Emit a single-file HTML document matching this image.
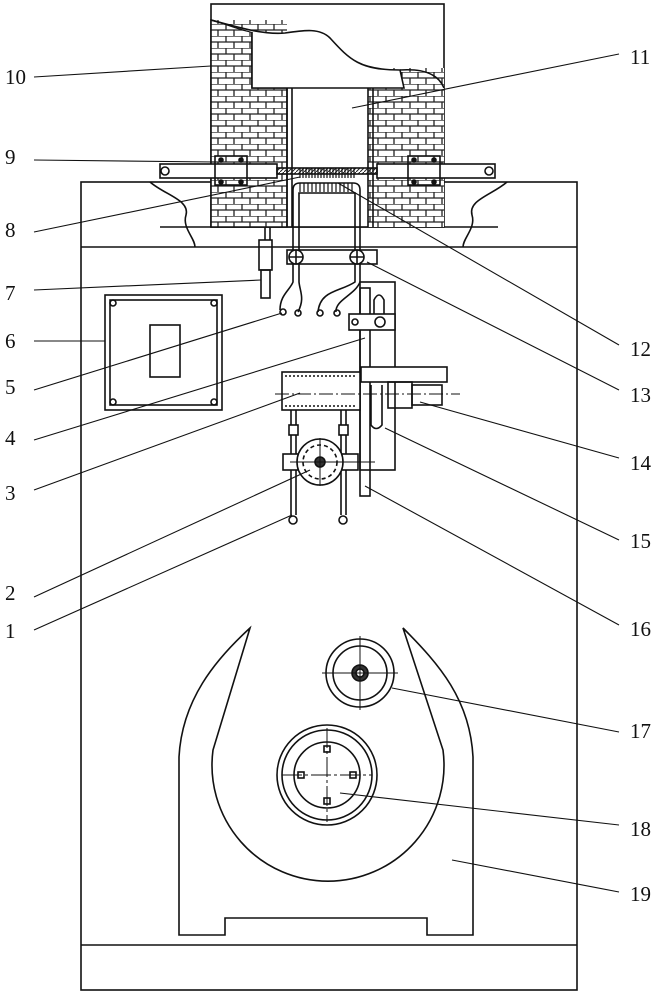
<!DOCTYPE html>
<html><head><meta charset="utf-8"><style>
html,body{margin:0;padding:0;background:#fff;}
svg{display:block;}
text{font-family:"Liberation Serif",serif;font-size:21px;fill:#111;}
</style></head><body>
<svg width="654" height="1000" viewBox="0 0 654 1000" xmlns="http://www.w3.org/2000/svg">
<defs>
<pattern id="brick" width="16" height="12" patternUnits="userSpaceOnUse">
<rect width="16" height="12" fill="#fff"/>
<path d="M0 0H16M0 6H16M2 0V6M10 6V12" stroke="#222" stroke-width="1.3" fill="none"/>
</pattern>
<pattern id="hatch" width="4" height="4" patternUnits="userSpaceOnUse">
<path d="M0 4L4 0" stroke="#222" stroke-width="1"/>
</pattern>
</defs>
<g fill="none" stroke="#111" stroke-width="1.6">
<rect x="81" y="182" width="496" height="808"/>
<line x1="81" y1="247" x2="577" y2="247"/>
<line x1="81" y1="945" x2="577" y2="945"/>
<path d="M150 182 C165 195 190 200 186 215 C182 228 195 238 195 247" fill="#fff"/>
<path d="M507 182 C492 195 468 200 472 215 C476 228 463 238 463 247" fill="#fff"/>
<line x1="160" y1="227" x2="498" y2="227"/>
<rect x="211" y="4" width="233" height="223" fill="#fff"/>
<rect x="211" y="20" width="76" height="207" fill="url(#brick)" stroke="none"/>
<rect x="368" y="68" width="76" height="159" fill="url(#brick)" stroke="none"/>
<path d="M211 20 C230 25 240 30 252 32 L252 88 L287 88 L287 227 L211 227 Z" fill="none"/>
<path d="M211 20 C240 28 265 35 285 33 C305 30 320 28 330 38 C350 60 360 70 400 70 L404 88 L252 88 L252 32" fill="#fff"/>
<path d="M400 70 C430 68 440 78 444 88" />
<line x1="287" y1="88" x2="287" y2="227"/><line x1="292" y1="88" x2="292" y2="227"/>
<line x1="368" y1="88" x2="368" y2="227"/><line x1="373" y1="88" x2="373" y2="227"/>
<rect x="160" y="164" width="117" height="14" fill="#fff"/>
<rect x="377" y="164" width="118" height="14" fill="#fff"/>
<circle cx="165" cy="171" r="4"/><circle cx="489" cy="171" r="4"/>
<rect x="215" y="156" width="32" height="29" fill="none"/>
<rect x="408" y="156" width="32" height="29" fill="none"/>
<g fill="#111"><circle cx="221" cy="160" r="2"/><circle cx="241" cy="160" r="2"/><circle cx="221" cy="182" r="2"/><circle cx="241" cy="182" r="2"/>
<circle cx="414" cy="160" r="2"/><circle cx="434" cy="160" r="2"/><circle cx="414" cy="182" r="2"/><circle cx="434" cy="182" r="2"/></g>
<rect x="277" y="168" width="100" height="6" fill="url(#hatch)"/>
<g stroke-width="1.2">
<path d="M300 168V178M303 168V178M306 168V178M309 168V178M312 168V178M315 168V178M318 168V178M321 168V178M324 168V178M327 168V178M330 168V178M333 168V178M336 168V178M339 168V178M342 168V178M345 168V178M348 168V178M351 168V178M354 168V178"/>
<path d="M300 183V192M304 183V192M308 183V192M312 183V192M316 183V192M320 183V192M324 183V192M328 183V192M332 183V192M336 183V192M340 183V192M344 183V192M348 183V192M352 183V192"/>
</g>
<path d="M293 265V190Q293 183 300 183H353Q360 183 360 190V265"/>
<path d="M299 265V193H355V265"/>
<rect x="287" y="250" width="90" height="14"/>
<circle cx="296" cy="257" r="7" fill="#fff"/><circle cx="357" cy="257" r="7" fill="#fff"/>
<path d="M289 257H303M296 250V264M350 257H364M357 250V264"/>
<rect x="259" y="240" width="13" height="30"/><rect x="261" y="270" width="9" height="28"/>
<line x1="265" y1="227" x2="265" y2="240"/><line x1="270" y1="227" x2="270" y2="240"/>
<path d="M293 265V282C290 290 280 295 280 310M299 265V282C300 292 305 298 298 312"/>
<circle cx="283" cy="312" r="3"/><circle cx="298" cy="313" r="3"/>
<path d="M355 265V282C340 292 320 290 318 312M360 265V282C355 295 335 300 336 312"/>
<circle cx="320" cy="313" r="3"/><circle cx="337" cy="313" r="3"/>
<rect x="105" y="295" width="117" height="115"/>
<rect x="110" y="300" width="107" height="105"/>
<rect x="150" y="325" width="30" height="52"/>
<circle cx="113" cy="303" r="3"/><circle cx="214" cy="303" r="3"/><circle cx="113" cy="402" r="3"/><circle cx="214" cy="402" r="3"/>
<rect x="360" y="282" width="35" height="188"/>
<rect x="360" y="288" width="10" height="208"/>
<path d="M374 330V300Q379 290 384 300V330"/>
<rect x="349" y="314" width="46" height="16" fill="#fff"/>
<circle cx="355" cy="322" r="3"/><circle cx="380" cy="322" r="5"/>
<rect x="361" y="367" width="86" height="15" fill="#fff"/>
<rect x="388" y="382" width="24" height="26"/>
<rect x="412" y="385" width="30" height="20"/>
<path d="M371 385V425Q376 432 382 425V385"/>
<rect x="282" y="372" width="78" height="38" fill="#fff"/>
<path d="M285 376H357M285 406H357" stroke-dasharray="2 2"/>
<line x1="275" y1="394" x2="460" y2="394" stroke-dasharray="14 3 2 3" stroke-width="1"/>
<path d="M291 410V515M296 410V515M341 410V515M346 410V515"/>
<rect x="289" y="425" width="9" height="10" fill="#fff"/><rect x="339" y="425" width="9" height="10" fill="#fff"/>
<circle cx="293" cy="520" r="4"/><circle cx="343" cy="520" r="4"/>
<rect x="283" y="454" width="75" height="16" fill="#fff"/>
<circle cx="320" cy="462" r="23" fill="#fff"/>
<circle cx="320" cy="462" r="17" stroke-dasharray="4 3"/>
<circle cx="320" cy="462" r="5" fill="#333"/>
<line x1="290" y1="462" x2="375" y2="462" stroke-width="1"/>
<line x1="320" y1="438" x2="320" y2="486" stroke-width="1"/>
<path d="M250 628 L213 750 A116 116 0 1 0 443 750 L403 628 C440 665 470 700 473 757 V935 H427 V918 H225 V935 H179 V757 C182 700 215 660 250 628 Z"/>
<circle cx="360" cy="673" r="34"/><circle cx="360" cy="673" r="27"/>
<circle cx="360" cy="673" r="8" fill="#333"/><circle cx="360" cy="673" r="4" fill="#fff"/>
<path d="M322 673H398M360 636V710" stroke-width="1"/>
<circle cx="327" cy="775" r="50"/><circle cx="327" cy="775" r="45"/><circle cx="327" cy="775" r="33"/>
<path d="M282 775H372M327 728V822" stroke-width="1" stroke-dasharray="20 3 3 3"/>
<rect x="324" y="746" width="6" height="6"/><rect x="324" y="798" width="6" height="6"/>
<rect x="298" y="772" width="6" height="6"/><rect x="350" y="772" width="6" height="6"/>
<g stroke-width="1.1">
<path d="M34 77L211 66"/><path d="M34 160L215 162"/><path d="M34 232L300 177"/>
<path d="M34 290L261 280"/><path d="M34 341L105 341"/><path d="M34 390L282 313"/><path d="M34 440L365 338"/>
<path d="M34 490L300 393"/><path d="M34 597L310 470"/><path d="M34 630L292 515"/>
<path d="M619 54L352 108"/><path d="M619 345L338 183"/><path d="M619 390L367 262"/>
<path d="M619 458L420 402"/><path d="M619 540L385 428"/><path d="M619 625L365 486"/>
<path d="M619 732L392 688"/><path d="M619 825L340 793"/><path d="M619 892L452 860"/>
</g>
</g>
<g>
<text x="5" y="84">10</text><text x="5" y="164">9</text><text x="5" y="237">8</text>
<text x="5" y="300">7</text><text x="5" y="348">6</text><text x="5" y="394">5</text>
<text x="5" y="445">4</text><text x="5" y="500">3</text><text x="5" y="600">2</text>
<text x="5" y="638">1</text>
<text x="630" y="64">11</text><text x="630" y="356">12</text><text x="630" y="402">13</text>
<text x="630" y="470">14</text><text x="630" y="548">15</text><text x="630" y="636">16</text>
<text x="630" y="738">17</text><text x="630" y="836">18</text><text x="630" y="901">19</text>
</g>
</svg>
</body></html>
